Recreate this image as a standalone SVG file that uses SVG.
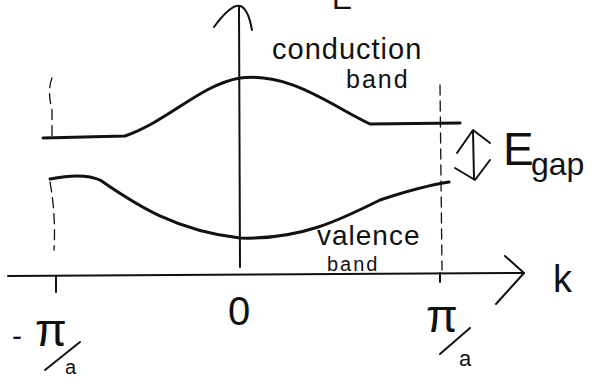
<svg xmlns="http://www.w3.org/2000/svg" width="597" height="381" viewBox="0 0 597 381">
<style>
.ln{fill:none;stroke:#111;stroke-linecap:round;stroke-linejoin:round}
.ax{stroke-width:2}
.band{stroke-width:3}
.dash{stroke-width:1.3;stroke-dasharray:10 6}
.t{font-family:"Liberation Sans","DejaVu Sans",sans-serif;fill:#111}
</style>
<rect width="597" height="381" fill="#fff"/>
<g id="axes">
<path class="ln ax" d="M240,267 L239,6"/>
<path class="ln ax" d="M214,27 Q231,4 240,6 Q248,8 252,30"/>
<path class="ln ax" d="M8,276 L524,273"/>
<path class="ln ax" d="M505,256 L524,273 L496,304"/>
<path class="ln ax" d="M56,276 L56,292"/>
<path class="ln ax" d="M440,273 L440,282"/>
</g>
<g id="guides">
<path class="ln dash" d="M52,78 Q47,90 52,110 L52,137"/>
<path class="ln dash" d="M50,182 Q56,215 54,250"/>
<path class="ln dash" d="M440,85 L442,270"/>
</g>
<g id="conduction-band">
<path class="ln band" d="M43,138 L125,136 C170,120 200,85 240,78 C290,72 330,105 370,124 L460,123"/>
</g>
<g id="valence-band">
<path class="ln band" d="M50,179 C65,176 85,173 100,180 C130,200 170,230 240,238 C300,240 340,220 380,200 C410,190 430,185 449,182"/>
</g>
<g id="egap-arrow">
<path class="ln ax" d="M474,178 L473,132 M457,153 L473,130 L490,143 M455,168 L475,180 L490,160"/>
</g>
<g id="fraction-bars">
<path class="ln ax" d="M45,370 L80,342"/>
<path class="ln ax" d="M440,354 L470,328"/>
</g>
<g id="labels">
<text class="t" x="332" y="9" font-size="30">E</text>
<text class="t" x="272" y="59" font-size="29" letter-spacing="1">conduction</text>
<text class="t" x="346" y="88" font-size="25" letter-spacing="2">band</text>
<text class="t" x="317" y="245" font-size="28" letter-spacing="1">valence</text>
<text class="t" x="327" y="271" font-size="20" letter-spacing="2">band</text>
<text class="t" x="503" y="165" font-size="46">E</text>
<text class="t" x="531" y="175" font-size="32">gap</text>
<text class="t" x="553" y="292" font-size="38">k</text>
<text class="t" x="228" y="325" font-size="40">0</text>
<text class="t" x="12" y="346" font-size="30">-</text>
<text class="t" x="35" y="346" font-size="46">π</text>
<text class="t" x="65" y="374" font-size="20">a</text>
<text class="t" x="426" y="332" font-size="46">π</text>
<text class="t" x="459" y="366" font-size="22">a</text>
</g>
</svg>
